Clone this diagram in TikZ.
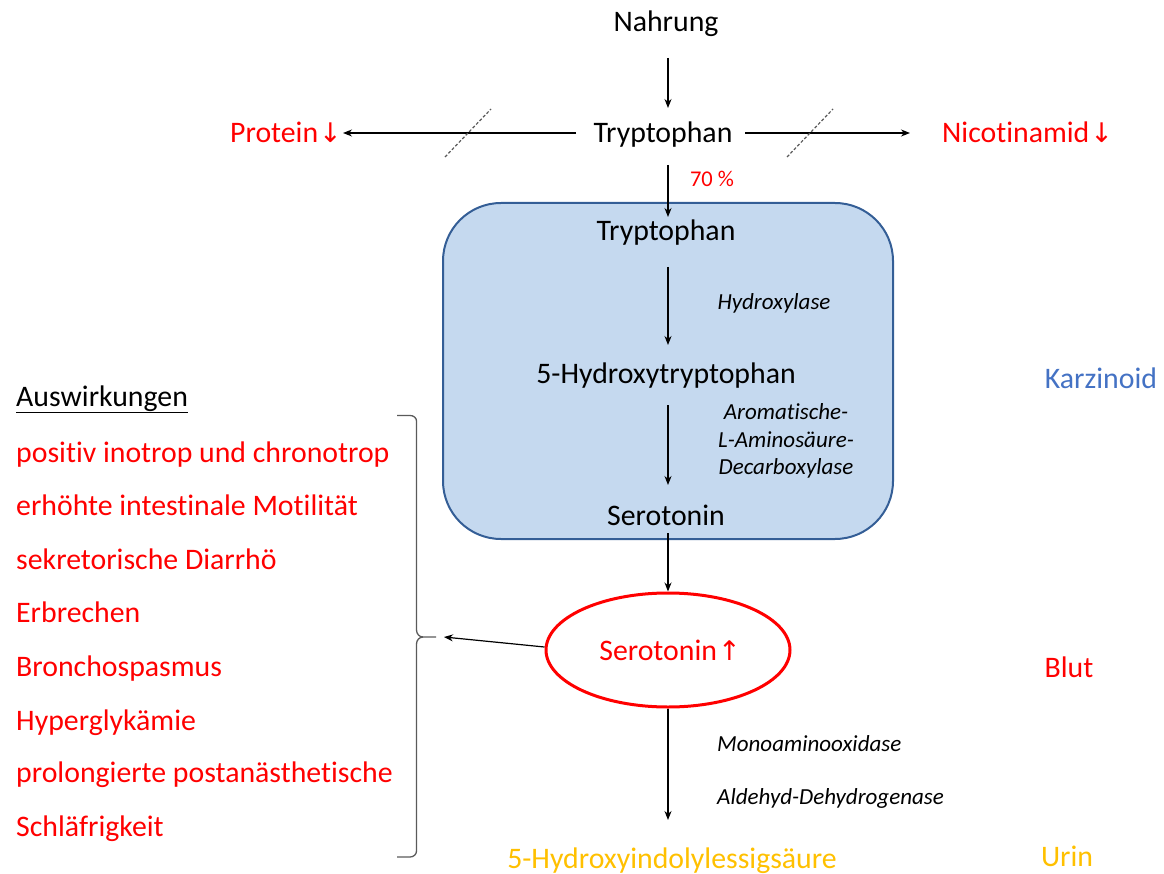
\documentclass[tikz,border=0pt]{standalone}
\usepackage{fontspec}
\setmainfont{Carlito}[Ligatures=NoCommon]
\newfontfamily\symfont{DejaVu Sans}
\usetikzlibrary{arrows.meta,shapes.geometric,calc}
\definecolor{myred}{RGB}{255,0,0}
\definecolor{myyellow}{RGB}{255,192,0}
\definecolor{myblue}{RGB}{68,114,196}
\definecolor{boxfill}{RGB}{197,217,239}
\definecolor{boxline}{RGB}{52,94,150}
\definecolor{bracegray}{RGB}{90,90,90}
\newcommand{\dn}{{\symfont\fontsize{27}{30}\selectfont↓}}
\newcommand{\up}{{\symfont\fontsize{27}{30}\selectfont↑}}
\begin{document}
\begin{tikzpicture}[x=1pt,y=-1pt,
  txt/.style={font=\fontsize{29.8}{34}\selectfont, inner sep=0pt, text height=22pt, text depth=2pt},
  enz/.style={font=\fontsize{23}{27.5}\selectfont\itshape, inner sep=0pt, align=center},
  arr/.style={-{Stealth[length=9pt,width=7pt]}, line width=1.2pt, black},
  slash/.style={dashed, dash pattern=on 3pt off 2pt, line width=1.2pt, gray!70!black},
  eff/.style={txt, anchor=west, text=myred}]
\useasboundingbox (0,0) rectangle (1164,874);

% Karzinoid box
\node[draw=boxline, fill=boxfill, line width=2pt, rounded corners=58pt,
      minimum width=450pt, minimum height=336pt, inner sep=0pt] (box) at (668,371) {};

% top
\node[txt] (nahrung) at (666,22) {Nahrung};
\node[txt] (tryp0) at (663,133) {Tryptophan};
\node[txt, text=myred, anchor=east] (protein) at (342,133) {Protein\kern1pt\dn};
\node[txt, text=myred, anchor=west] (nico) at (942,133) {Nicotinamid\kern1pt\dn};
\node[font=\fontsize{22.5}{26}\selectfont, text=myred, inner sep=0pt] (p70) at (712,179) {70 \%};

\draw[arr] (668,58) -- (668,108);
\draw[arr] (576,133) -- ($(protein.east)+(1,0)$);
\draw[arr] (745,133) -- (910,133);
\draw[slash] (445,157) -- (491,109);
\draw[slash] (787,157) -- (833,109);
\draw[arr] (668,165) -- (668,217);

% inside box
\node[txt] (tryp1) at (666,231) {Tryptophan};
\node[txt] (hydtry) at (666,373) {5-Hydroxytryptophan};
\node[txt] (sero1) at (666,515) {Serotonin};
\node[enz] (hydrox) at (774,303) {Hydroxylase};
\node[enz] (aadc) at (786,441) {Aromatische-\\L-Aminosäure-\\Decarboxylase};
\draw[arr] (668,267) -- (668,345);
\draw[arr] (668,405) -- (668,485);

% blood
\node[draw=myred, line width=3pt, ellipse, minimum width=244pt, minimum height=114pt, inner sep=0pt] (ell) at (668,650) {};
\node[txt, text=myred] (sero2) at (670,650) {Serotonin\kern1pt\up};
\draw[arr] (668,533) -- (ell.north);
\draw[arr] (ell.south) -- (668,820);
\node[enz, anchor=west] (mao) at (717,744) {Monoaminooxidase};
\node[enz, anchor=west] (ald) at (717,798) {Aldehyd-Dehydrogenase};
\node[txt, text=myyellow] (hiaa) at (672,858) {5-Hydroxyindolylessigsäure};

% right labels
\node[txt, text=myblue] (karz) at (1101,378) {Karzinoid};
\node[txt, text=myred] (blut) at (1069,667) {Blut};
\node[txt, text=myyellow] (urin) at (1067,856) {Urin};

% effects
\node[txt, anchor=west] (ausw) at (16,396) {\underline{Auswirkungen}};
\node[eff] (e1) at (16,452) {positiv inotrop und chronotrop};
\node[eff] (e2) at (16,505) {erhöhte intestinale Motilität};
\node[eff] (e3) at (16,559) {sekretorische Diarrhö};
\node[eff] (e4) at (16,612) {Erbrechen};
\node[eff] (e5) at (16,666) {Bronchospasmus};
\node[eff] (e6) at (16,720) {Hyperglykämie};
\node[eff] (e7) at (16,772) {prolongierte postanästhetische};
\node[eff] (e8) at (16,826) {Schläfrigkeit};

% brace
\coordinate (btip) at (436,637);
\draw[bracegray, line width=1.3pt, line join=round]
  (397,415.5) -- (410,415.5) to[out=0,in=90] (416.5,421) -- (416.5,630)
  to[out=-90,in=180] (423,637) -- (btip);
\draw[bracegray, line width=1.3pt, line join=round]
  (423,637) to[out=180,in=90] (416.5,644) -- (416.5,851)
  to[out=-90,in=0] (410,857) -- (397,857);
\draw[arr] ($(ell.west)+(0,-3)$) -- ($(btip)+(8,0)$);
\end{tikzpicture}
\end{document}
